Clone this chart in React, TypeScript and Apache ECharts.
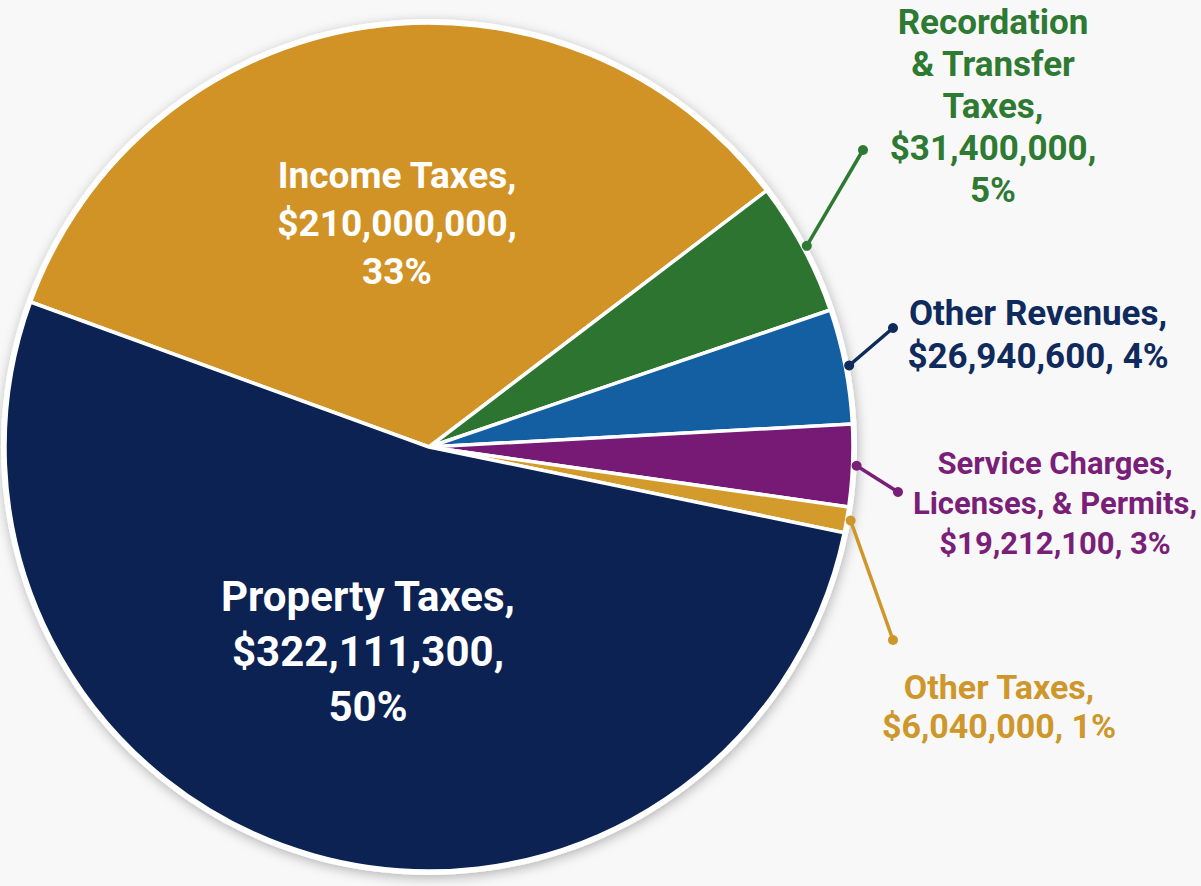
import React, { useEffect, useRef } from "react";
import * as echarts from "echarts";

// ---- data ----
const categories = [
  "Income Taxes",
  "Recordation & Transfer Taxes",
  "Other Revenues",
  "Service Charges, Licenses, & Permits",
  "Other Taxes",
  "Property Taxes",
];
const values = [210000000, 31400000, 26940600, 19212100, 6040000, 322111300];
const percents = ["33%", "5%", "4%", "3%", "1%", "50%"];
// how each label's text is broken into lines
const labelLines = [
  ["Income Taxes,", "{v},", "{p}"],
  ["Recordation", "& Transfer", "Taxes,", "{v},", "{p}"],
  ["Other Revenues,", "{v}, {p}"],
  ["Service Charges,", "Licenses, & Permits,", "{v}, {p}"],
  ["Other Taxes,", "{v}, {p}"],
  ["Property Taxes,", "{v},", "{p}"],
];

// ---- styles / layout ----
const sliceColors = ["#D19326", "#2E7431", "#145EA2", "#761A76", "#D39A2C", "#0B2252"];
const textColors = ["#FFFFFF", "#2E7A32", "#0F2A5C", "#7A1F78", "#CE972B", "#FFFFFF"];
const fontSizes = [37, 35, 35, 31, 34, 42];
const lineHeights = [48, 42, 43, 40, 39, 55];
const labelAnchors: number[][] = [
  [397, 223],
  [993, 106],
  [1038, 335],
  [1055, 503],
  [999, 706],
  [368, 651],
];
const lineEnds: (number[] | null)[] = [null, [863, 150], [893, 328], [898, 492], [893, 640], null];
const CX = 429;
const CY = 447;
const R = 424;
const START = 160;
const FONT = "Roboto, 'Noto Sans', 'DejaVu Sans', sans-serif";

function fmt(v: number) {
  return "$" + v.toLocaleString("en-US");
}

export default function App() {
  const ref = useRef<HTMLDivElement>(null);
  useEffect(() => {
    if (!ref.current) return;
    const chart = echarts.init(ref.current, undefined, { renderer: "svg" });
    const total = values.reduce((a, b) => a + b, 0);

    // mid angles of slices (degrees, math convention), clockwise from START
    const mids: number[] = [];
    let acc = START;
    values.forEach((v) => {
      const span = (v / total) * 360;
      mids.push(acc - span / 2);
      acc -= span;
    });

    const graphics: any[] = [];
    values.forEach((_, i) => {
      const end = lineEnds[i];
      if (!end) return;
      const a = (mids[i] * Math.PI) / 180;
      const sx = CX + (R + 4) * Math.cos(a);
      const sy = CY - (R + 4) * Math.sin(a);
      const col = textColors[i];
      graphics.push({
        type: "line",
        shape: { x1: sx, y1: sy, x2: end[0], y2: end[1] },
        style: { stroke: col, lineWidth: 3.5 },
        z: 10,
      });
      graphics.push({ type: "circle", shape: { cx: sx, cy: sy, r: 5 }, style: { fill: col }, z: 11 });
      graphics.push({ type: "circle", shape: { cx: end[0], cy: end[1], r: 5 }, style: { fill: col }, z: 11 });
    });

    const data = categories.map((name, i) => ({
      name,
      value: values[i],
      itemStyle: { color: sliceColors[i] },
      label: {
        color: textColors[i],
        fontSize: fontSizes[i],
        lineHeight: lineHeights[i],
      },
    }));

    chart.setOption({
      animation: false,
      backgroundColor: "#F8F8F8",
      graphic: graphics,
      series: [
        {
          type: "pie",
          silent: true,
          center: [CX, CY],
          radius: R + 4,
          data: [{ value: 1, name: "", itemStyle: { color: "#FFFFFF" } }],
          itemStyle: {
            shadowBlur: 12,
            shadowColor: "rgba(0,0,0,0.28)",
            shadowOffsetX: 1,
            shadowOffsetY: 3,
          },
          label: { show: false },
          labelLine: { show: false },
          z: 1,
        },
        {
          type: "pie",
          center: [CX, CY],
          radius: R,
          startAngle: START,
          clockwise: true,
          z: 2,
          itemStyle: { borderColor: "#FFFFFF", borderWidth: 3.5 },
          label: {
            show: true,
            position: "inside",
            fontFamily: FONT,
            fontWeight: "bold",
            align: "center",
            formatter: (p: any) =>
              labelLines[p.dataIndex]
                .map((s) => s.replace("{v}", fmt(values[p.dataIndex])).replace("{p}", percents[p.dataIndex]))
                .join("\n"),
          },
          labelLine: { show: false },
          labelLayout: (p: any) => {
            const a = labelAnchors[p.dataIndex];
            return { x: a[0], y: a[1], align: "center", verticalAlign: "middle" };
          },
          emphasis: { disabled: true },
          data,
        },
      ],
    });
    return () => chart.dispose();
  }, []);
  return (
    <div
      ref={ref}
      style={{ position: "fixed", left: 0, top: 0, width: 1201, height: 886 }}
    />
  );
}
